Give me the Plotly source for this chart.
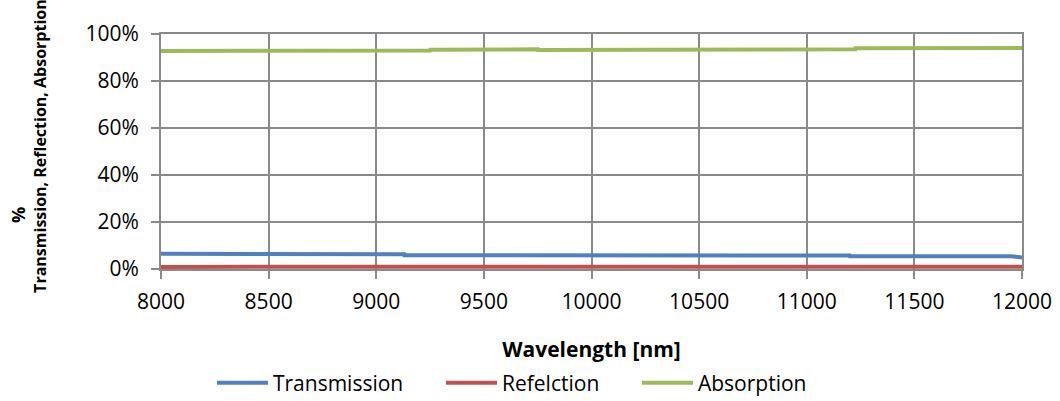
import plotly.graph_objects as go

# Wavelength breakpoints [nm]
wl_trans = [8000, 8400, 8401, 9130, 9131, 10300, 10301, 11200, 11201, 11950, 12000]
transmission = [6.5, 6.5, 6.3, 6.3, 5.9, 5.9, 5.7, 5.7, 5.4, 5.4, 4.9]

wl_refl = [8000, 9800, 9801, 10400, 10401, 11200, 11201, 12000]
reflection = [0.9, 0.9, 1.1, 1.1, 1.3, 1.3, 1.0, 1.0]

wl_abs = [8000, 8630, 8631, 9250, 9251, 9500, 9750, 9751, 10575, 10576, 11225, 11226, 12000]
absorption = [92.8, 92.8, 93.0, 93.0, 93.3, 93.6, 93.5, 93.2, 93.2, 93.5, 93.5, 93.9, 94.0]

series_names = ["Transmission", "Refelction", "Absorption"]
x_ticks = [8000, 8500, 9000, 9500, 10000, 10500, 11000, 11500, 12000]
y_ticks = [0, 20, 40, 60, 80, 100]
y_labels = ["0%", "20%", "40%", "60%", "80%", "100%"]

pad = "&nbsp;" * 6
fig = go.Figure()
fig.add_trace(go.Scatter(x=wl_trans, y=transmission, mode="lines", name=series_names[0] + pad,
                         line=dict(color="#4F81BD", width=4)))
fig.add_trace(go.Scatter(x=wl_refl, y=reflection, mode="lines", name=series_names[1] + pad,
                         line=dict(color="#C0504D", width=4)))
fig.add_trace(go.Scatter(x=wl_abs, y=absorption, mode="lines", name=series_names[2],
                         line=dict(color="#9BBB59", width=4)))

font = "Open Sans, sans-serif"
fs = 21
fig.update_layout(
    width=1060, height=401,
    margin=dict(l=161, r=38, t=34, b=132, autoexpand=False),
    paper_bgcolor="white", plot_bgcolor="white",
    font=dict(family=font, size=fs, color="#000000"),
    showlegend=True,
    legend=dict(orientation="h", x=0.0592, xanchor="left", y=-0.485, yanchor="middle",
                font=dict(size=fs), itemwidth=51, traceorder="normal"),
    xaxis=dict(range=[8000, 12000], tickvals=x_ticks, ticktext=[str(v) for v in x_ticks],
               showgrid=True, gridcolor="#8a8a8a", gridwidth=2,
               showline=True, linecolor="#8a8a8a", linewidth=2, mirror=True,
               ticks="outside", ticklen=8, tickcolor="#8a8a8a", tickwidth=2,
               ticklabelstandoff=5, zeroline=False,
               title=dict(text="<b>Wavelength [nm]</b>", font=dict(size=fs), standoff=28)),
    yaxis=dict(range=[0, 100], tickvals=y_ticks, ticktext=y_labels,
               showgrid=True, gridcolor="#8a8a8a", gridwidth=2,
               showline=True, linecolor="#8a8a8a", linewidth=2, mirror=True,
               ticks="outside", ticklen=8, tickcolor="#8a8a8a", tickwidth=2,
               ticklabelstandoff=8, zeroline=False),
    annotations=[
        dict(text="<b>%</b>", textangle=-90, xref="paper", yref="paper",
             x=-0.166, y=0.23, xanchor="center", yanchor="middle", showarrow=False,
             font=dict(size=18)),
        dict(text="<b>Transmission, Reflection, Absorption</b>", textangle=-90,
             xref="paper", yref="paper", x=-0.1405, y=-0.11, xanchor="center",
             yanchor="bottom", showarrow=False, font=dict(size=16)),
    ],
)

fig.write_html("out.html")
